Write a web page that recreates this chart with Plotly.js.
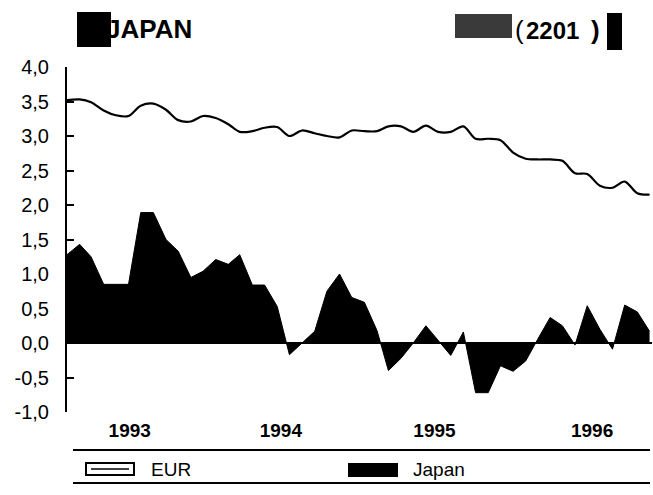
<!DOCTYPE html>
<html>
<head>
<meta charset="utf-8">
<script src="https://cdn.plot.ly/plotly-3.0.1.min.js"></script>
<style>html,body{margin:0;padding:0;background:#fff;}#chart{width:653px;height:495px;}</style>
</head>
<body>
<div id="chart"></div>
<script>
// ---- data (monthly, Jan 1993 .. Dec 1996) ----
const months = [
 '1993-01-01','1993-02-01','1993-03-01','1993-04-01','1993-05-01','1993-06-01','1993-07-01','1993-08-01','1993-09-01','1993-10-01','1993-11-01','1993-12-01',
 '1994-01-01','1994-02-01','1994-03-01','1994-04-01','1994-05-01','1994-06-01','1994-07-01','1994-08-01','1994-09-01','1994-10-01','1994-11-01','1994-12-01',
 '1995-01-01','1995-02-01','1995-03-01','1995-04-01','1995-05-01','1995-06-01','1995-07-01','1995-08-01','1995-09-01','1995-10-01','1995-11-01','1995-12-01',
 '1996-01-01','1996-02-01','1996-03-01','1996-04-01','1996-05-01','1996-06-01','1996-07-01','1996-08-01','1996-09-01','1996-10-01','1996-11-01','1996-12-01'
];
const eurValues = [
 3.52,3.53,3.49,3.37,3.30,3.29,3.44,3.47,3.38,3.23,3.21,3.29,
 3.26,3.17,3.06,3.07,3.12,3.13,3.00,3.08,3.04,3.00,2.98,3.08,
 3.07,3.07,3.14,3.14,3.06,3.15,3.06,3.06,3.14,2.96,2.96,2.94,
 2.76,2.67,2.66,2.66,2.64,2.46,2.45,2.28,2.25,2.34,2.17,2.15
];
const japanValues = [
 1.28,1.43,1.25,0.85,0.85,0.85,1.89,1.89,1.50,1.33,0.95,1.04,
 1.21,1.14,1.28,0.84,0.84,0.53,-0.17,0.00,0.17,0.75,1.00,0.66,
 0.59,0.18,-0.40,-0.22,0.00,0.25,0.04,-0.18,0.16,-0.72,-0.72,-0.33,
 -0.41,-0.26,0.05,0.37,0.25,-0.03,0.54,0.20,-0.09,0.55,0.45,0.17
];
const seriesNames = ['EUR', 'Japan'];
const yTickVals = [-1, -0.5, 0, 0.5, 1, 1.5, 2, 2.5, 3, 3.5, 4];
const yTickText = ['-1,0','-0,5','0,0','0,5','1,0','1,5','2,0','2,5','3,0','3,5','4,0'];
const yearTickVals = ['1993-06-04','1994-06-10','1995-06-22','1996-07-13'];
const yearTickText = ['1993','1994','1995','1996'];
const chartTitle = 'JAPAN';
const chartCode = '2201';

// ---- geometry helpers (pixel -> paper) ----
const W = 653, H = 495, ML = 67, MR = 1, MT = 67, MB = 83;
const PW = W - ML - MR, PH = H - MT - MB;
const px = x => (x - ML) / PW;
const py = y => (H - MB - y) / PH;

const FONT = 'Liberation Sans, Arial, Helvetica, sans-serif';

const traces = [
  {
    x: months, y: japanValues, name: seriesNames[1], type: 'scatter', mode: 'lines',
    fill: 'tozeroy', fillcolor: '#000', line: {color: '#000', width: 1, shape: 'linear'},
    hoverinfo: 'skip'
  },
  {
    x: months, y: eurValues, name: seriesNames[0], type: 'scatter', mode: 'lines',
    line: {color: '#000', width: 2.2, shape: 'spline', smoothing: 0.9},
    hoverinfo: 'skip'
  }
];

const shapes = [
  // title blocks
  {type:'rect', xref:'paper', yref:'paper', x0:px(77), x1:px(111), y0:py(47), y1:py(12), fillcolor:'#000', line:{width:0}},
  {type:'rect', xref:'paper', yref:'paper', x0:px(455), x1:px(512), y0:py(38), y1:py(14), fillcolor:'#3a3a3a', line:{width:0}},
  {type:'rect', xref:'paper', yref:'paper', x0:px(607), x1:px(622), y0:py(50), y1:py(13), fillcolor:'#000', line:{width:0}},
  // legend rules
  {type:'line', xref:'paper', yref:'paper', x0:px(73), x1:px(650), y0:py(450), y1:py(450), line:{color:'#000', width:2}},
  {type:'line', xref:'paper', yref:'paper', x0:px(73), x1:px(650), y0:py(483), y1:py(483), line:{color:'#000', width:2}},
  // legend icons
  {type:'rect', xref:'paper', yref:'paper', x0:px(86), x1:px(134), y0:py(475), y1:py(463), fillcolor:'#fff', line:{color:'#000', width:2}},
  {type:'line', xref:'paper', yref:'paper', x0:px(91), x1:px(129), y0:py(469), y1:py(469), line:{color:'#000', width:1.5}},
  {type:'rect', xref:'paper', yref:'paper', x0:px(348), x1:px(398), y0:py(477), y1:py(463), fillcolor:'#000', line:{width:0}}
];

const annotations = [
  {xref:'paper', yref:'paper', x:px(104), y:py(29), xanchor:'left', yanchor:'middle', showarrow:false,
   text:'<b>'+chartTitle+'</b>', font:{family:FONT, size:26, color:'#000'}},
  {xref:'paper', yref:'paper', x:px(513), y:py(30), xanchor:'left', yanchor:'middle', showarrow:false,
   text:'(', font:{family:FONT, size:26, color:'#000'}},
  {xref:'paper', yref:'paper', x:px(552), y:py(30), xanchor:'center', yanchor:'middle', showarrow:false,
   text:'<b>'+chartCode+'</b>', font:{family:FONT, size:24, color:'#000'}},
  {xref:'paper', yref:'paper', x:px(589), y:py(30), xanchor:'left', yanchor:'middle', showarrow:false,
   text:'<b>)</b>', font:{family:FONT, size:26, color:'#000'}},
  {xref:'paper', yref:'paper', x:px(149), y:py(469), xanchor:'left', yanchor:'middle', showarrow:false,
   text:seriesNames[0], font:{family:FONT, size:19, color:'#000'}},
  {xref:'paper', yref:'paper', x:px(411), y:py(469), xanchor:'left', yanchor:'middle', showarrow:false,
   text:seriesNames[1], font:{family:FONT, size:19, color:'#000'}}
];

const layout = {
  width: W, height: H,
  margin: {l: ML, r: MR, t: MT, b: MB, pad: 0},
  paper_bgcolor: '#fff', plot_bgcolor: '#fff',
  showlegend: false,
  font: {family: FONT, color: '#000'},
  xaxis: {
    type: 'date', range: ['1993-01-01', '1996-12-07'],
    showgrid: false, zeroline: false, showline: false, ticks: '',
    tickmode: 'array', tickvals: yearTickVals, ticktext: yearTickText,
    tickfont: {family: FONT, size: 19, color: '#000', weight: 'bold'},
    ticklabelstandoff: 5, fixedrange: true
  },
  yaxis: {
    range: [-1, 4], showgrid: false,
    zeroline: true, zerolinecolor: '#000', zerolinewidth: 1.5,
    showline: true, linecolor: '#000', linewidth: 2, mirror: false,
    ticks: 'inside', ticklen: 7, tickwidth: 2, tickcolor: '#000',
    tickmode: 'array', tickvals: yTickVals, ticktext: yTickText,
    tickfont: {family: FONT, size: 20, color: '#000'},
    ticklabelstandoff: 12, layer: 'above traces', fixedrange: true
  },
  shapes: shapes,
  annotations: annotations
};

Plotly.newPlot('chart', traces, layout, {displayModeBar: false, staticPlot: true});
</script>
</body>
</html>
